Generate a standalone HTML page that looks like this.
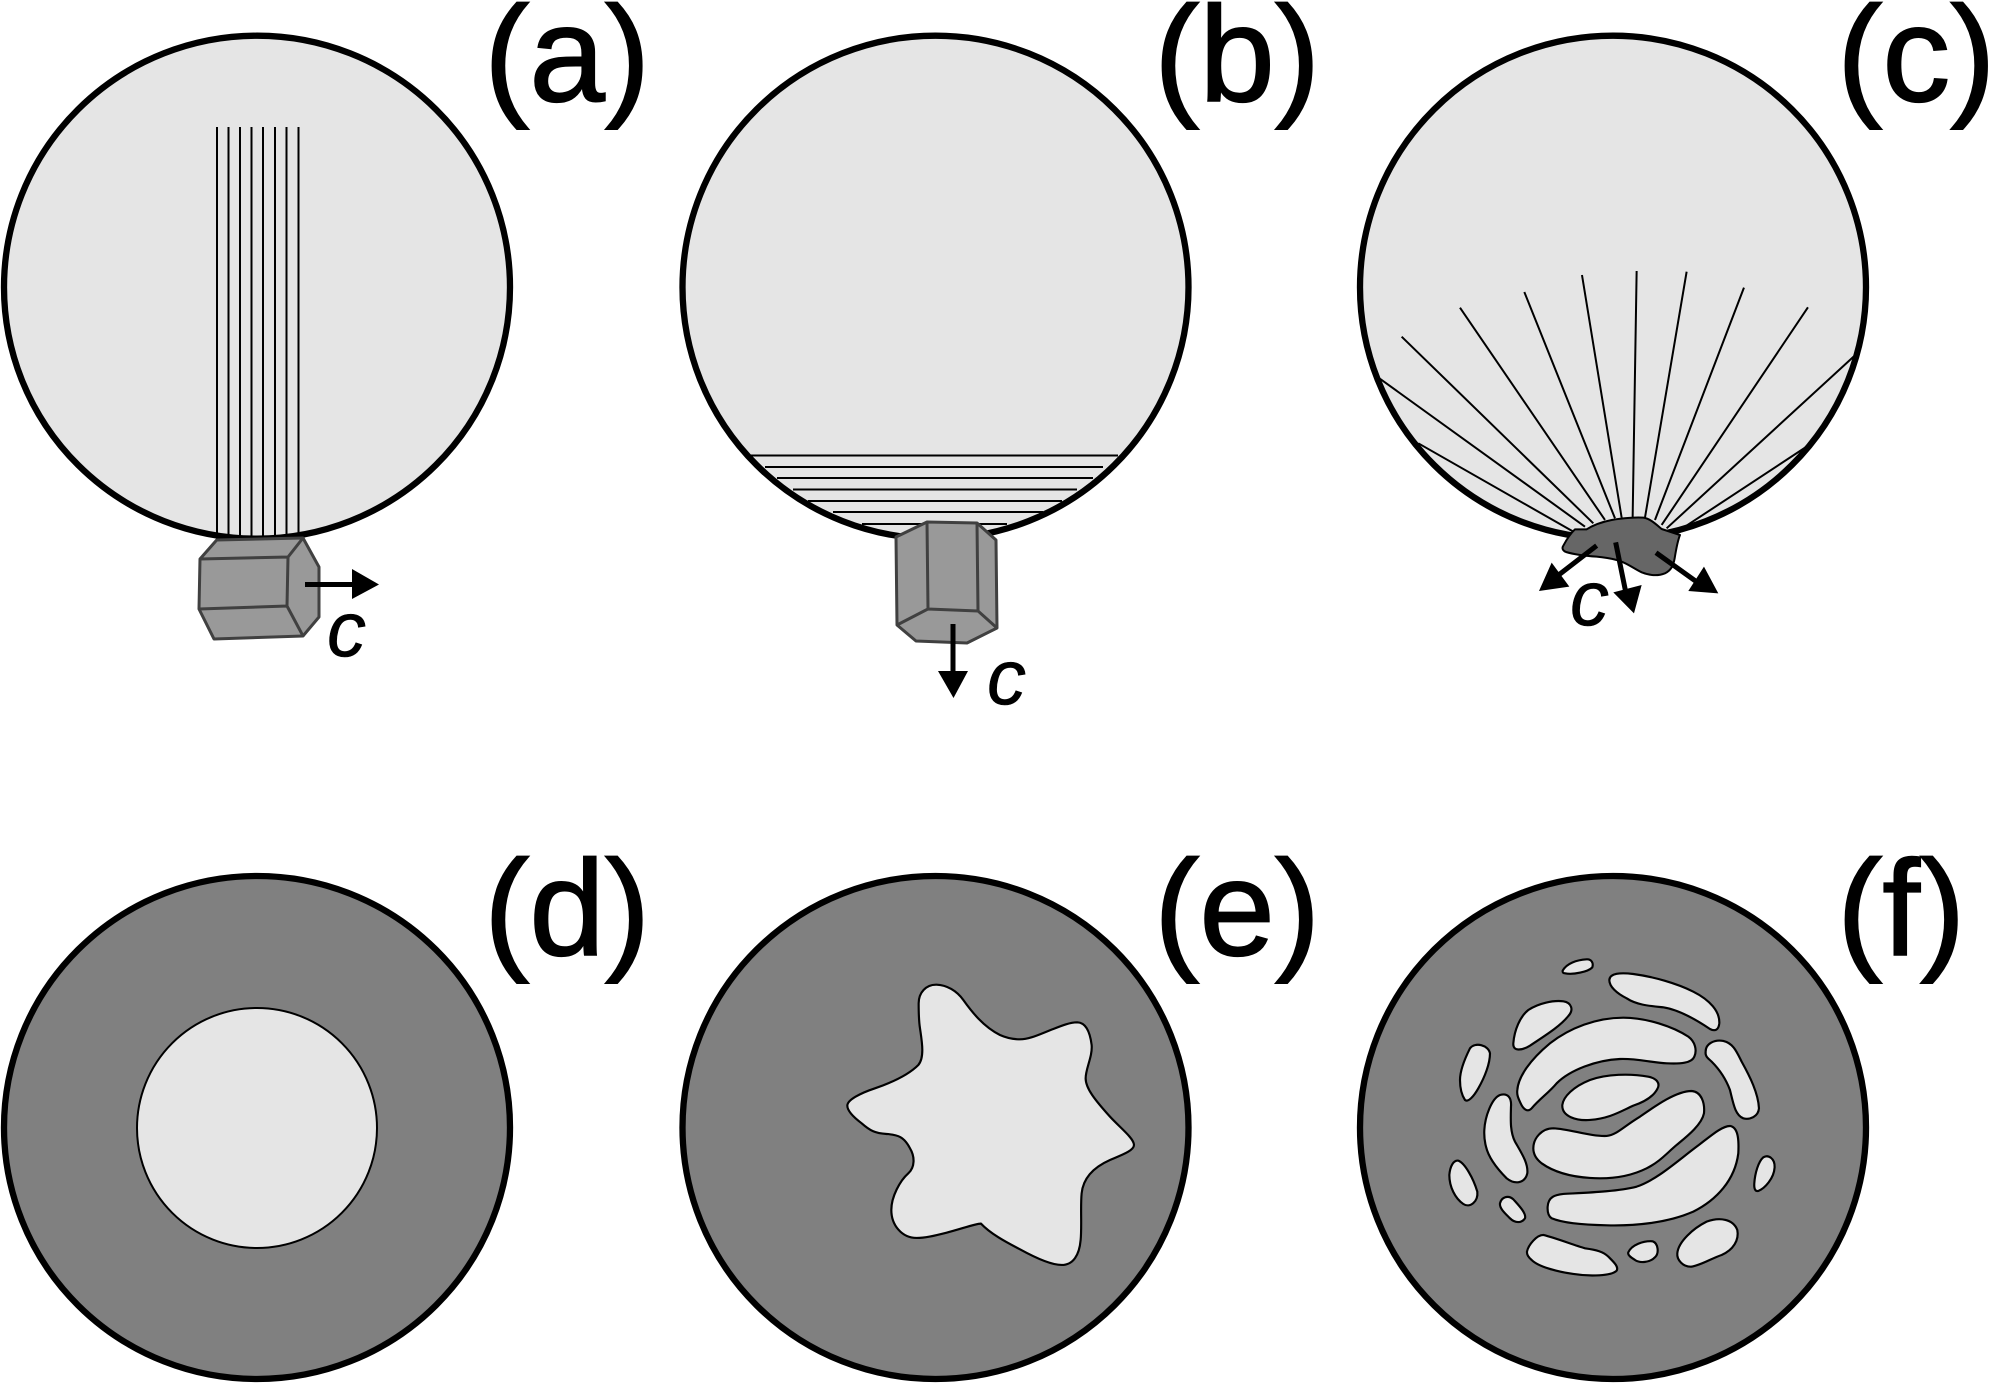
<!DOCTYPE html>
<html><head><meta charset="utf-8"><style>
html,body{margin:0;padding:0;background:#fff;width:1991px;height:1383px;overflow:hidden}
svg{display:block}
.lab{font-family:"Liberation Sans",Arial,sans-serif;font-size:136px;fill:#000;stroke:#000;stroke-width:1.6}
.c{font-family:"Liberation Sans",Arial,sans-serif;font-style:italic;font-size:78px;fill:#000;stroke:#000;stroke-width:0.6}
.xt{fill:#999;stroke:#404040;stroke-width:3;stroke-linejoin:round}
.xi{fill:none;stroke:#404040;stroke-width:3}
.ln{stroke:#000;stroke-width:2;fill:none}
.ar{stroke:#000;stroke-width:5;fill:none}
.bl{fill:#e5e5e5;stroke:#000;stroke-width:6.500;stroke-linejoin:round}
</style></head><body>
<svg width="1991" height="1383" viewBox="0 0 1991 1383" xmlns="http://www.w3.org/2000/svg">
<rect width="1991" height="1383" fill="#fff"/>

<!-- top circles -->
<ellipse cx="257" cy="287.200" rx="253" ry="251.500" fill="#e5e5e5" stroke="#000" stroke-width="6.300"/>
<ellipse cx="935.500" cy="287.200" rx="253" ry="251.500" fill="#e5e5e5" stroke="#000" stroke-width="6.300"/>
<ellipse cx="1613" cy="287.200" rx="253" ry="251.500" fill="#e5e5e5" stroke="#000" stroke-width="6.300"/>
<!-- bottom circles -->
<ellipse cx="257" cy="1127.500" rx="253" ry="251.500" fill="#808080" stroke="#000" stroke-width="6.300"/>
<ellipse cx="935.500" cy="1127.500" rx="253" ry="251.500" fill="#808080" stroke="#000" stroke-width="6.300"/>
<ellipse cx="1613" cy="1127.500" rx="253" ry="251.500" fill="#808080" stroke="#000" stroke-width="6.300"/>

<!-- labels -->
<text class="lab" x="484" y="101">(a)</text>
<text class="lab" x="1154" y="101">(b)</text>
<text class="lab" x="1837" y="101">(c)</text>
<text class="lab" x="484" y="955">(d)</text>
<text class="lab" x="1154" y="955">(e)</text>
<text class="lab" x="1837" y="955">(f)</text>

<!-- a -->
<g class="ln">
<path d="M217 127V540M228.500 127V540M240 127V540M251.500 127V540M263 127V540M275 127V540M286.500 127V540M298.500 127V540"/>
</g>
<path class="xt" d="M216.700 540L303 538L319 567L319 617L303 636L214 639L199 609L200 559Z"/>
<path class="xi" d="M200 559L288 557L303 538M288 557L287 606L303 636M199 609L287 606"/>
<path class="ar" d="M305 584.500H353"/>
<path d="M352 569L379 584.500L352 599Z" fill="#000"/>
<text class="c" x="327" y="656">c</text>

<!-- b -->
<g class="ln">
<path d="M750 455.500H1118M765 467H1103M777 478H1093M793 489.500H1077M808 501H1062M833 512H1043M862 524H1007"/>
</g>
<path class="xt" d="M896 537L927 522L977 523L996 540L997 628L967 643L916 641L897 625Z"/>
<path class="xi" d="M927 522L928 609L897 625M977 523L978 611L997 628M928 609L978 611"/>
<path class="ar" d="M953 624V673"/>
<path d="M938 671L968 671L953.500 698Z" fill="#000"/>
<text class="c" x="987" y="704">c</text>

<!-- c -->
<g transform="translate(1360 250) scale(0.3333)" stroke="#000" stroke-width="6" fill="none">
<path d="M175 580L640 845M58 385L675 830M125 260L700 820M300 173L735 810M493 126L765 805M666 75L785 803M830 63L818 803M980 65L855 803M1152 113L885 810M1344 172L905 825M1483 318L920 835M1340 590L960 840"/>
</g>
<g transform="translate(1480 480) scale(0.3333)">
<path d="M285 148L320 148C340 135 370 125 395 120C430 113 470 112 490 113C510 116 525 130 545 147L600 165C592 185 588 210 584 235C580 258 572 272 555 280C535 288 510 287 485 277C460 265 435 245 410 240C390 235 370 232 350 230C320 228 285 224 258 216C248 212 245 204 250 197C258 182 270 162 285 148Z" fill="#666" stroke="#000" stroke-width="6" stroke-linejoin="round"/>
<g stroke="#000" stroke-width="15" fill="none">
<path d="M350 197L232 288M407 187L437 335M528 218L652 307"/>
</g>
<path d="M215 248L268 320L177 333Z M400 337L485 315L462 400Z M672 260L715 340L625 333Z" fill="#000"/>
</g>
<text class="c" x="1570" y="625">c</text>

<!-- d -->
<ellipse cx="257" cy="1128" rx="120" ry="120" fill="#e5e5e5" stroke="#000" stroke-width="2"/>

<!-- e -->
<g transform="translate(820 960) scale(0.3333)">
<path class="bl" d="M296 130C296 98 318 73 350 74C380 75 410 92 430 120C455 155 490 200 540 225C560 234 580 238 600 238C630 238 660 222 700 207C725 197 750 187 772 187C798 188 810 215 815 255C818 290 797 325 797 355C797 385 825 420 870 470C900 503 942 535 942 555C942 572 905 585 870 600C825 620 790 650 785 700C781 740 786 800 782 840C778 885 760 915 725 915C690 915 640 890 600 868C555 845 510 820 483 791C470 790 420 808 380 818C340 828 315 834 290 834C245 834 214 795 214 750C214 710 240 662 265 640C285 622 285 590 270 565C252 530 235 525 200 522C165 520 150 512 125 490C105 475 82 455 82 437C82 420 120 400 165 385C220 366 265 345 295 315C315 292 305 240 300 205C296 180 296 155 296 130Z"/>
</g>

<!-- f -->
<g transform="translate(1400 930) scale(0.3333)">
<path class="bl" d="M488 122C500 100 530 90 560 88C575 87 581 100 577 112C565 125 520 135 495 130C490 130 487 127 488 122Z"/>
<path class="bl" d="M628 150C630 130 660 127 700 132C760 140 830 160 880 185C930 210 960 245 958 280C956 300 945 305 930 297C890 270 840 240 790 232C750 228 710 225 680 205C650 190 628 170 628 150Z"/>
<path class="bl" d="M340 340C343 300 360 260 385 240C415 220 460 210 490 214C515 218 522 240 505 258C480 290 430 320 390 347C365 362 338 365 340 340Z"/>
<path class="bl" d="M352 480C355 440 390 390 450 340C510 293 590 263 670 263C740 263 820 290 865 320C885 335 892 360 883 380C875 400 840 402 800 400C750 397 710 385 660 387C590 390 510 420 470 460C445 490 420 505 395 535C383 548 370 538 362 520C355 505 350 495 352 480Z"/>
<path class="bl" d="M487 525C490 500 520 470 570 450C620 432 690 430 745 440C770 445 782 460 772 477C760 500 735 515 700 527C660 545 630 565 570 570C530 573 485 560 487 525Z"/>
<path class="bl" d="M400 655C400 625 425 595 460 595C510 597 570 620 620 618C650 615 670 590 720 560C770 525 830 483 875 483C905 485 915 520 912 550C905 585 860 620 830 645C800 670 780 695 740 715C690 740 630 748 570 744C510 740 460 725 425 700C405 685 400 670 400 655Z"/>
<path class="bl" d="M443 830C445 800 465 795 490 792C560 788 650 785 710 770C770 750 830 695 890 650C930 620 965 588 990 588C1015 592 1017 630 1015 670C1005 750 950 810 880 845C800 880 700 888 620 886C560 885 490 880 455 865C445 858 442 845 443 830Z"/>
<path class="bl" d="M917 365C917 340 945 328 970 333C1000 340 1010 365 1025 395C1050 440 1075 490 1077 535C1075 560 1050 570 1030 565C1005 555 1000 520 990 480C975 440 955 415 935 395C925 385 915 380 917 365Z"/>
<path class="bl" d="M180 450C180 420 195 385 210 355C225 335 265 345 270 370C270 400 255 440 235 475C222 498 205 518 195 510C185 495 180 475 180 450Z"/>
<path class="bl" d="M253 600C255 560 275 505 300 495C325 488 335 505 333 530C332 570 330 605 345 635C365 670 385 700 382 730C375 760 345 765 320 745C290 715 265 680 258 650C254 635 252 620 253 600Z"/>
<path class="bl" d="M148 735C150 710 160 690 175 692C195 700 220 745 232 785C235 815 210 835 190 822C165 805 148 770 148 735Z"/>
<path class="bl" d="M300 820C305 800 325 795 340 808C355 825 380 850 375 865C365 880 345 880 330 865C315 850 298 835 300 820Z"/>
<path class="bl" d="M381 965C385 945 410 915 430 915C470 925 520 945 555 955C590 960 610 965 625 980C640 995 657 1010 650 1022C635 1038 570 1040 520 1032C470 1025 415 1010 395 990C385 982 380 975 381 965Z"/>
<path class="bl" d="M685 967C695 945 730 932 758 934C775 940 778 970 765 982C750 998 720 1000 705 990C692 982 682 975 685 967Z"/>
<path class="bl" d="M832 970C835 935 880 895 920 875C960 860 1000 868 1012 900C1018 930 1000 960 965 975C935 985 905 1005 875 1010C850 1012 830 990 832 970Z"/>
<path class="bl" d="M1063 760C1065 730 1075 695 1090 682C1105 673 1125 685 1124 712C1122 745 1095 775 1075 783C1065 785 1062 775 1063 760Z"/>
</g>
</svg>
</body></html>
